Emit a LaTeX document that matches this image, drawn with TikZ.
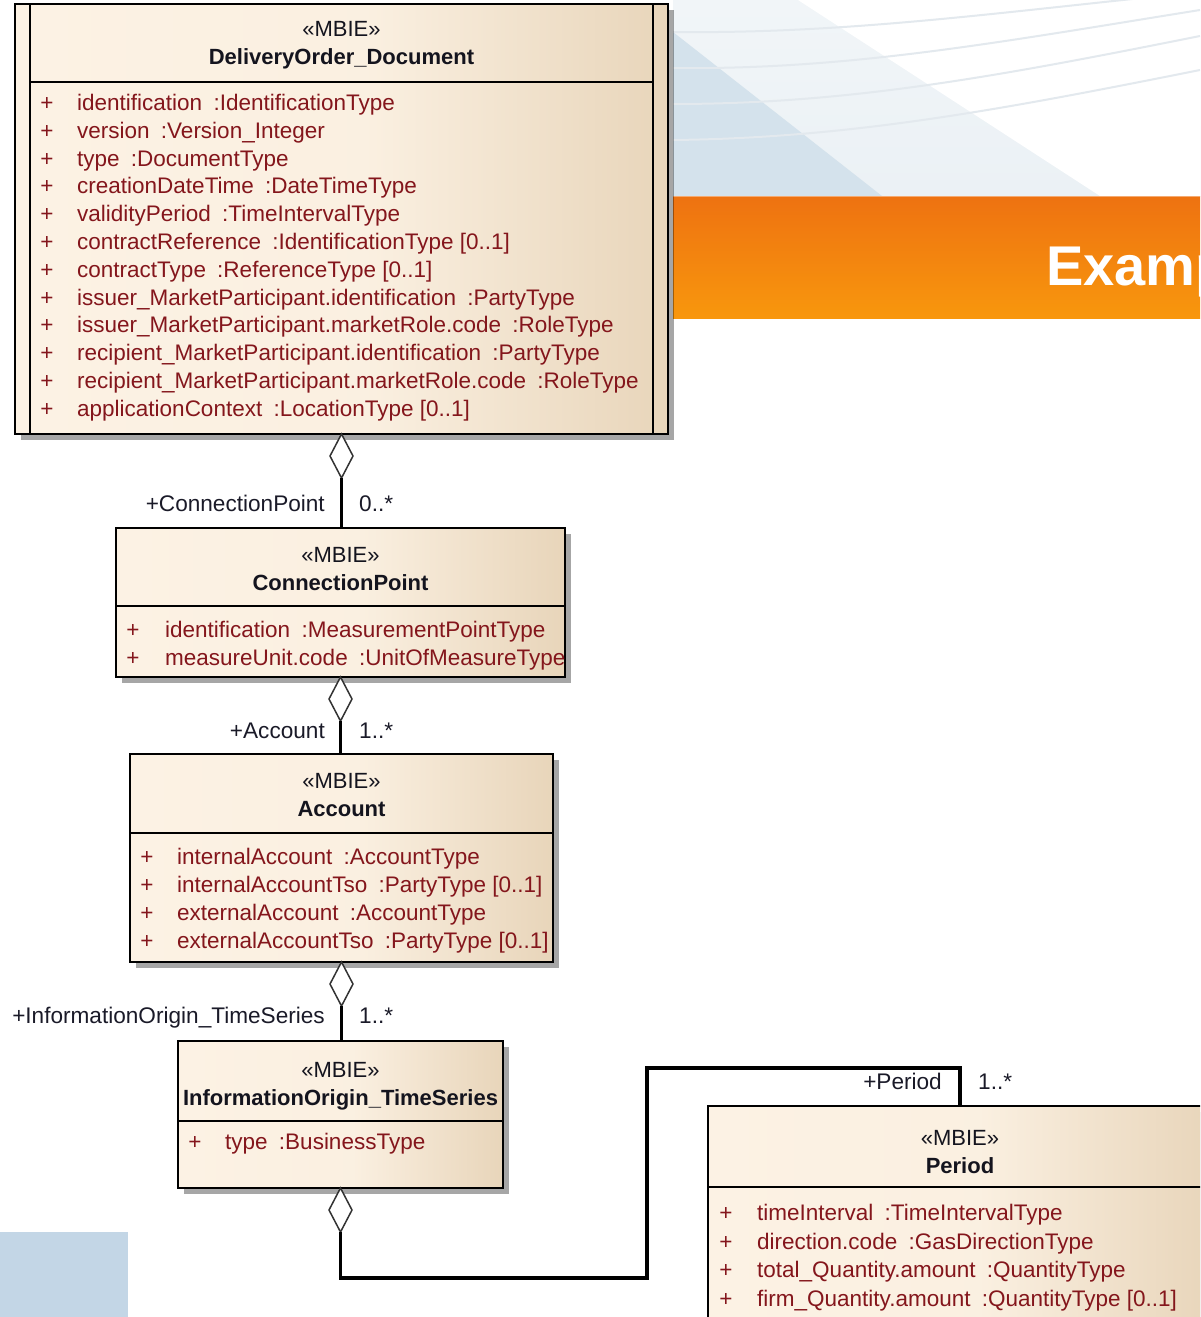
\documentclass[tikz,border=0pt]{standalone}
\usepackage{fontspec}
\setmainfont{Liberation Sans}
\usetikzlibrary{shapes.geometric,shadows}

\definecolor{creamL}{HTML}{FCF2E4}
\definecolor{tanR}{HTML}{E8D5BA}
\definecolor{attrred}{HTML}{84161C}
\definecolor{hdrtext}{HTML}{14141E}
\definecolor{lbltext}{HTML}{1A1A28}
\definecolor{slideblue}{HTML}{C3D6E6}
\definecolor{bgpale}{HTML}{EBF1F5}
\definecolor{bgblue}{HTML}{D4E2EC}
\definecolor{bgline}{HTML}{E3E9EE}
\definecolor{orangeTop}{HTML}{EE7211}
\definecolor{orangeBot}{HTML}{F8970D}

% class fill: cream on the left, warming to tan on the right
\pgfdeclarehorizontalshading{umlfill}{100bp}{color(0bp)=(creamL); color(25bp)=(creamL); color(52bp)=(creamL!92!tanR); color(75bp)=(tanR); color(100bp)=(tanR)}

\newcommand\attrgap{\hspace{0.5em}}

\begin{document}
\begin{tikzpicture}[x=1pt,y=-1pt,
  umlbox/.style={draw=black, line width=2.4pt, shade, shading=umlfill, inner sep=0pt, outer sep=0pt,
    drop shadow={shadow xshift=6pt, shadow yshift=-6pt, fill=black, opacity=0.35}},
  sepline/.style={line width=2.4pt, black},
  stereo/.style={anchor=base, inner sep=0pt, text=hdrtext, font=\fontsize{22}{26}\selectfont},
  cname/.style={anchor=base, inner sep=0pt, text=hdrtext, font=\bfseries\fontsize{22}{26}\selectfont},
  plus/.style={anchor=base, inner sep=0pt, text=attrred, font=\fontsize{22.5}{26}\selectfont},
  attr/.style={anchor=base west, inner sep=0pt, text=attrred, font=\fontsize{22.5}{26}\selectfont},
  rolelbl/.style={anchor=base east, inner sep=0pt, text=lbltext, font=\fontsize{22.6}{26}\selectfont},
  multlbl/.style={anchor=base west, inner sep=0pt, text=lbltext, font=\fontsize{22.6}{26}\selectfont},
  agg/.style={shape=diamond, draw=black!80, line width=1.5pt, fill=white, minimum width=23pt,
    minimum height=44pt, inner sep=0pt, outer sep=0pt},
  conn/.style={line width=3pt, black},
]
\useasboundingbox (0,0) rectangle (1200,1317);
\clip (0,0) rectangle (1200,1317);

% ---------- slide background ----------
\shade[top color=bgpale!70!white, bottom color=bgpale] (673,0) rectangle (1200,196);
\fill[bgblue] (673,32) -- (882,196) -- (673,196) -- cycle;
\fill[white] (798,0) -- (1200,0) -- (1200,196) -- (1100,196) -- cycle;
\foreach \ya/\yb/\yc/\yd in {32/34/12/-8, 68/70/42/10, 104/104/76/36, 140/138/110/70}
  \draw[bgline, line width=2pt] (673,\ya) .. controls (850,\yb) and (1000,\yc) .. (1200,\yd);
\shade[top color=orangeTop, bottom color=orangeBot] (673,196) rectangle (1200,318);
\draw[orangeTop!60!white, line width=1.2pt] (673,196.5) -- (1200,196.5);
\node[anchor=base west, inner sep=0pt, text=white, font=\bfseries\fontsize{56}{60}\selectfont]
  (slidetitle) at (1046,285) {Example};
\fill[slideblue] (0,1232) rectangle (128,1317);

% ---------- classes ----------
% DeliveryOrder_Document (active class: double side bars)
\node[umlbox, minimum width=653pt, minimum height=430pt] (doc) at (341.5,219) {};
\draw[sepline] (30,4) -- (30,434) (653,4) -- (653,434);
\draw[sepline] (30,82) -- (653,82);
\node[stereo] (doc-st) at (341.5,36) {«MBIE»};
\node[cname] (doc-nm) at (341.5,64) {DeliveryOrder\_Document};
\foreach \t [count=\i] in {
  identification\attrgap:IdentificationType,
  version\attrgap:Version\_Integer,
  type\attrgap:DocumentType,
  creationDateTime\attrgap:DateTimeType,
  validityPeriod\attrgap:TimeIntervalType,
  contractReference\attrgap:IdentificationType [0..1],
  contractType\attrgap:ReferenceType [0..1],
  issuer\_MarketParticipant.identification\attrgap:PartyType,
  issuer\_MarketParticipant.marketRole.code\attrgap:RoleType,
  recipient\_MarketParticipant.identification\attrgap:PartyType,
  recipient\_MarketParticipant.marketRole.code\attrgap:RoleType,
  applicationContext\attrgap:LocationType [0..1]} {
  \node[plus] (doc-p\i) at (47,{110.5+(\i-1)*27.8}) {+};
  \node[attr] (doc-a\i) at (77,{110.5+(\i-1)*27.8}) {\t};
}

% ConnectionPoint
\node[umlbox, minimum width=449pt, minimum height=149pt] (cp) at (340.5,602.5) {};
\draw[sepline] (cp.west |- 0,606) -- (cp.east |- 0,606);
\node[stereo] (cp-st) at (340.5,562) {«MBIE»};
\node[cname] (cp-nm) at (340.5,590) {ConnectionPoint};
\foreach \t [count=\i] in {
  identification\attrgap:MeasurementPointType,
  measureUnit.code\attrgap:UnitOfMeasureType} {
  \node[plus] (cp-p\i) at (133,{637.5+(\i-1)*28}) {+};
  \node[attr] (cp-a\i) at (165,{637.5+(\i-1)*28}) {\t};
}

% Account
\node[umlbox, minimum width=423pt, minimum height=208pt] (acc) at (341.5,858) {};
\draw[sepline] (acc.west |- 0,833) -- (acc.east |- 0,833);
\node[stereo] (acc-st) at (341.5,788) {«MBIE»};
\node[cname] (acc-nm) at (341.5,816) {Account};
\foreach \t [count=\i] in {
  internalAccount\attrgap:AccountType,
  internalAccountTso\attrgap:PartyType [0..1],
  externalAccount\attrgap:AccountType,
  externalAccountTso\attrgap:PartyType [0..1]} {
  \node[plus] (acc-p\i) at (147,{864.5+(\i-1)*28}) {+};
  \node[attr] (acc-a\i) at (177,{864.5+(\i-1)*28}) {\t};
}

% InformationOrigin_TimeSeries
\node[umlbox, minimum width=325pt, minimum height=147pt] (ios) at (340.5,1114.5) {};
\draw[sepline] (ios.west |- 0,1121) -- (ios.east |- 0,1121);
\node[stereo] (ios-st) at (340.5,1077) {«MBIE»};
\node[cname] (ios-nm) at (340.5,1105) {InformationOrigin\_TimeSeries};
\node[plus] (ios-p1) at (195,1149.5) {+};
\node[attr] (ios-a1) at (225,1149.5) {type\attrgap:BusinessType};

% Period
\node[umlbox, minimum width=504pt, minimum height=234pt] (per) at (960,1223) {};
\draw[sepline] (per.west |- 0,1187) -- (per.east |- 0,1187);
\node[stereo] (per-st) at (960,1145) {«MBIE»};
\node[cname] (per-nm) at (960,1173) {Period};
\foreach \t [count=\i] in {
  timeInterval\attrgap:TimeIntervalType,
  direction.code\attrgap:GasDirectionType,
  total\_Quantity.amount\attrgap:QuantityType,
  firm\_Quantity.amount\attrgap:QuantityType [0..1]} {
  \node[plus] (per-p\i) at (726,{1220.5+(\i-1)*28.7}) {+};
  \node[attr] (per-a\i) at (757,{1220.5+(\i-1)*28.7}) {\t};
}

% ---------- aggregations ----------
\node[agg, anchor=north] (d1) at (doc.south) {};
\draw[conn] (d1.south) -- (d1.south |- cp.north);
\node[rolelbl] (r1) at (325,511) {+ConnectionPoint};
\node[multlbl] (m1) at (359,511) {0..*};

\node[agg, anchor=north] (d2) at (cp.south) {};
\draw[conn] (d2.south) -- (d2.south |- acc.north);
\node[rolelbl] (r2) at (325,738) {+Account};
\node[multlbl] (m2) at (359,738) {1..*};

\node[agg, anchor=north] (d3) at (acc.south) {};
\draw[conn] (d3.south) -- (d3.south |- ios.north);
\node[rolelbl] (r3) at (325,1023) {+InformationOrigin\_TimeSeries};
\node[multlbl] (m3) at (359,1023) {1..*};

\node[agg, anchor=north] (d4) at (ios.south) {};
\coordinate (bend1) at (647,1278);
\coordinate (bend2) at (960,1068);
\draw[conn, line width=3.6pt] (d4.south) |- (bend1) |- (bend2) -- (per.north);
\node[rolelbl] (r4) at (942,1089) {+Period};
\node[multlbl] (m4) at (978,1089) {1..*};
\end{tikzpicture}
\end{document}
